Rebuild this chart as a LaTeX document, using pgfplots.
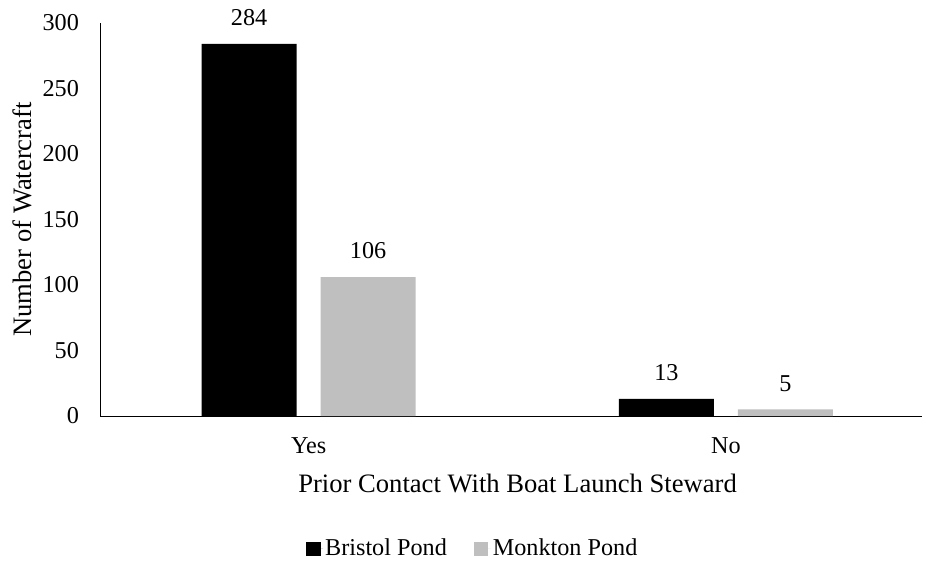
\documentclass[border=0pt]{standalone}
\usepackage{pgfplots}
\pgfplotsset{compat=1.18}
\usepackage{fontspec}
\setmainfont{Liberation Serif}
\definecolor{mgray}{RGB}{191,191,191}
\newcommand{\chartfont}{\fontsize{26.6}{32}\selectfont}
\newcommand{\smallfont}{\fontsize{24.2}{29}\selectfont}
\begin{document}
\chartfont
\begin{tikzpicture}
\path[use as bounding box] (-100pt,-146pt) rectangle (825pt,416pt);
\begin{axis}[
  scale only axis,
  width=822pt, height=393pt,
  xmin=-0.5, xmax=1.47,
  ymin=0, ymax=300,
  ytick={0,50,100,150,200,250,300},
  xtick={0,1},
  xticklabels={Yes,No},
  axis lines*=left,
  axis line style={line width=0.9pt, black},
  major tick length=0pt,
  /pgf/number format/assume math mode=true,
  ticklabel style={font=\smallfont},
  xticklabel style={yshift=-13pt},
  yticklabel style={xshift=-12pt},
  ybar=24pt, bar width=95pt,
  nodes near coords,
  every node near coord/.append style={font=\smallfont, yshift=9pt, black},
  xlabel={Prior Contact With Boat Launch Steward},
  ylabel={Number of Watercraft},
  xlabel style={at={(axis description cs:0.508,-0.1705)}, anchor=center, font=\chartfont},
  ylabel style={at={(axis description cs:-0.0949,0.5)}, anchor=center, font=\chartfont},
  legend style={at={(axis description cs:0.4535,-0.338)}, anchor=center, draw=none, font=\smallfont, legend columns=2, /tikz/every even column/.append style={column sep=25pt}, nodes={inner sep=2pt}},
  legend image code/.code={\path (0pt,0pt) -- (17pt,0pt); \fill[#1] (0pt,-7.5pt) rectangle (14.5pt,7pt);},
]
\addplot[fill=black, draw=none] coordinates {(0,284) (1,13)};
\addplot[fill=mgray, draw=none] coordinates {(0,106) (1,5)};
\legend{Bristol Pond, Monkton Pond}
\end{axis}
\end{tikzpicture}
\end{document}
